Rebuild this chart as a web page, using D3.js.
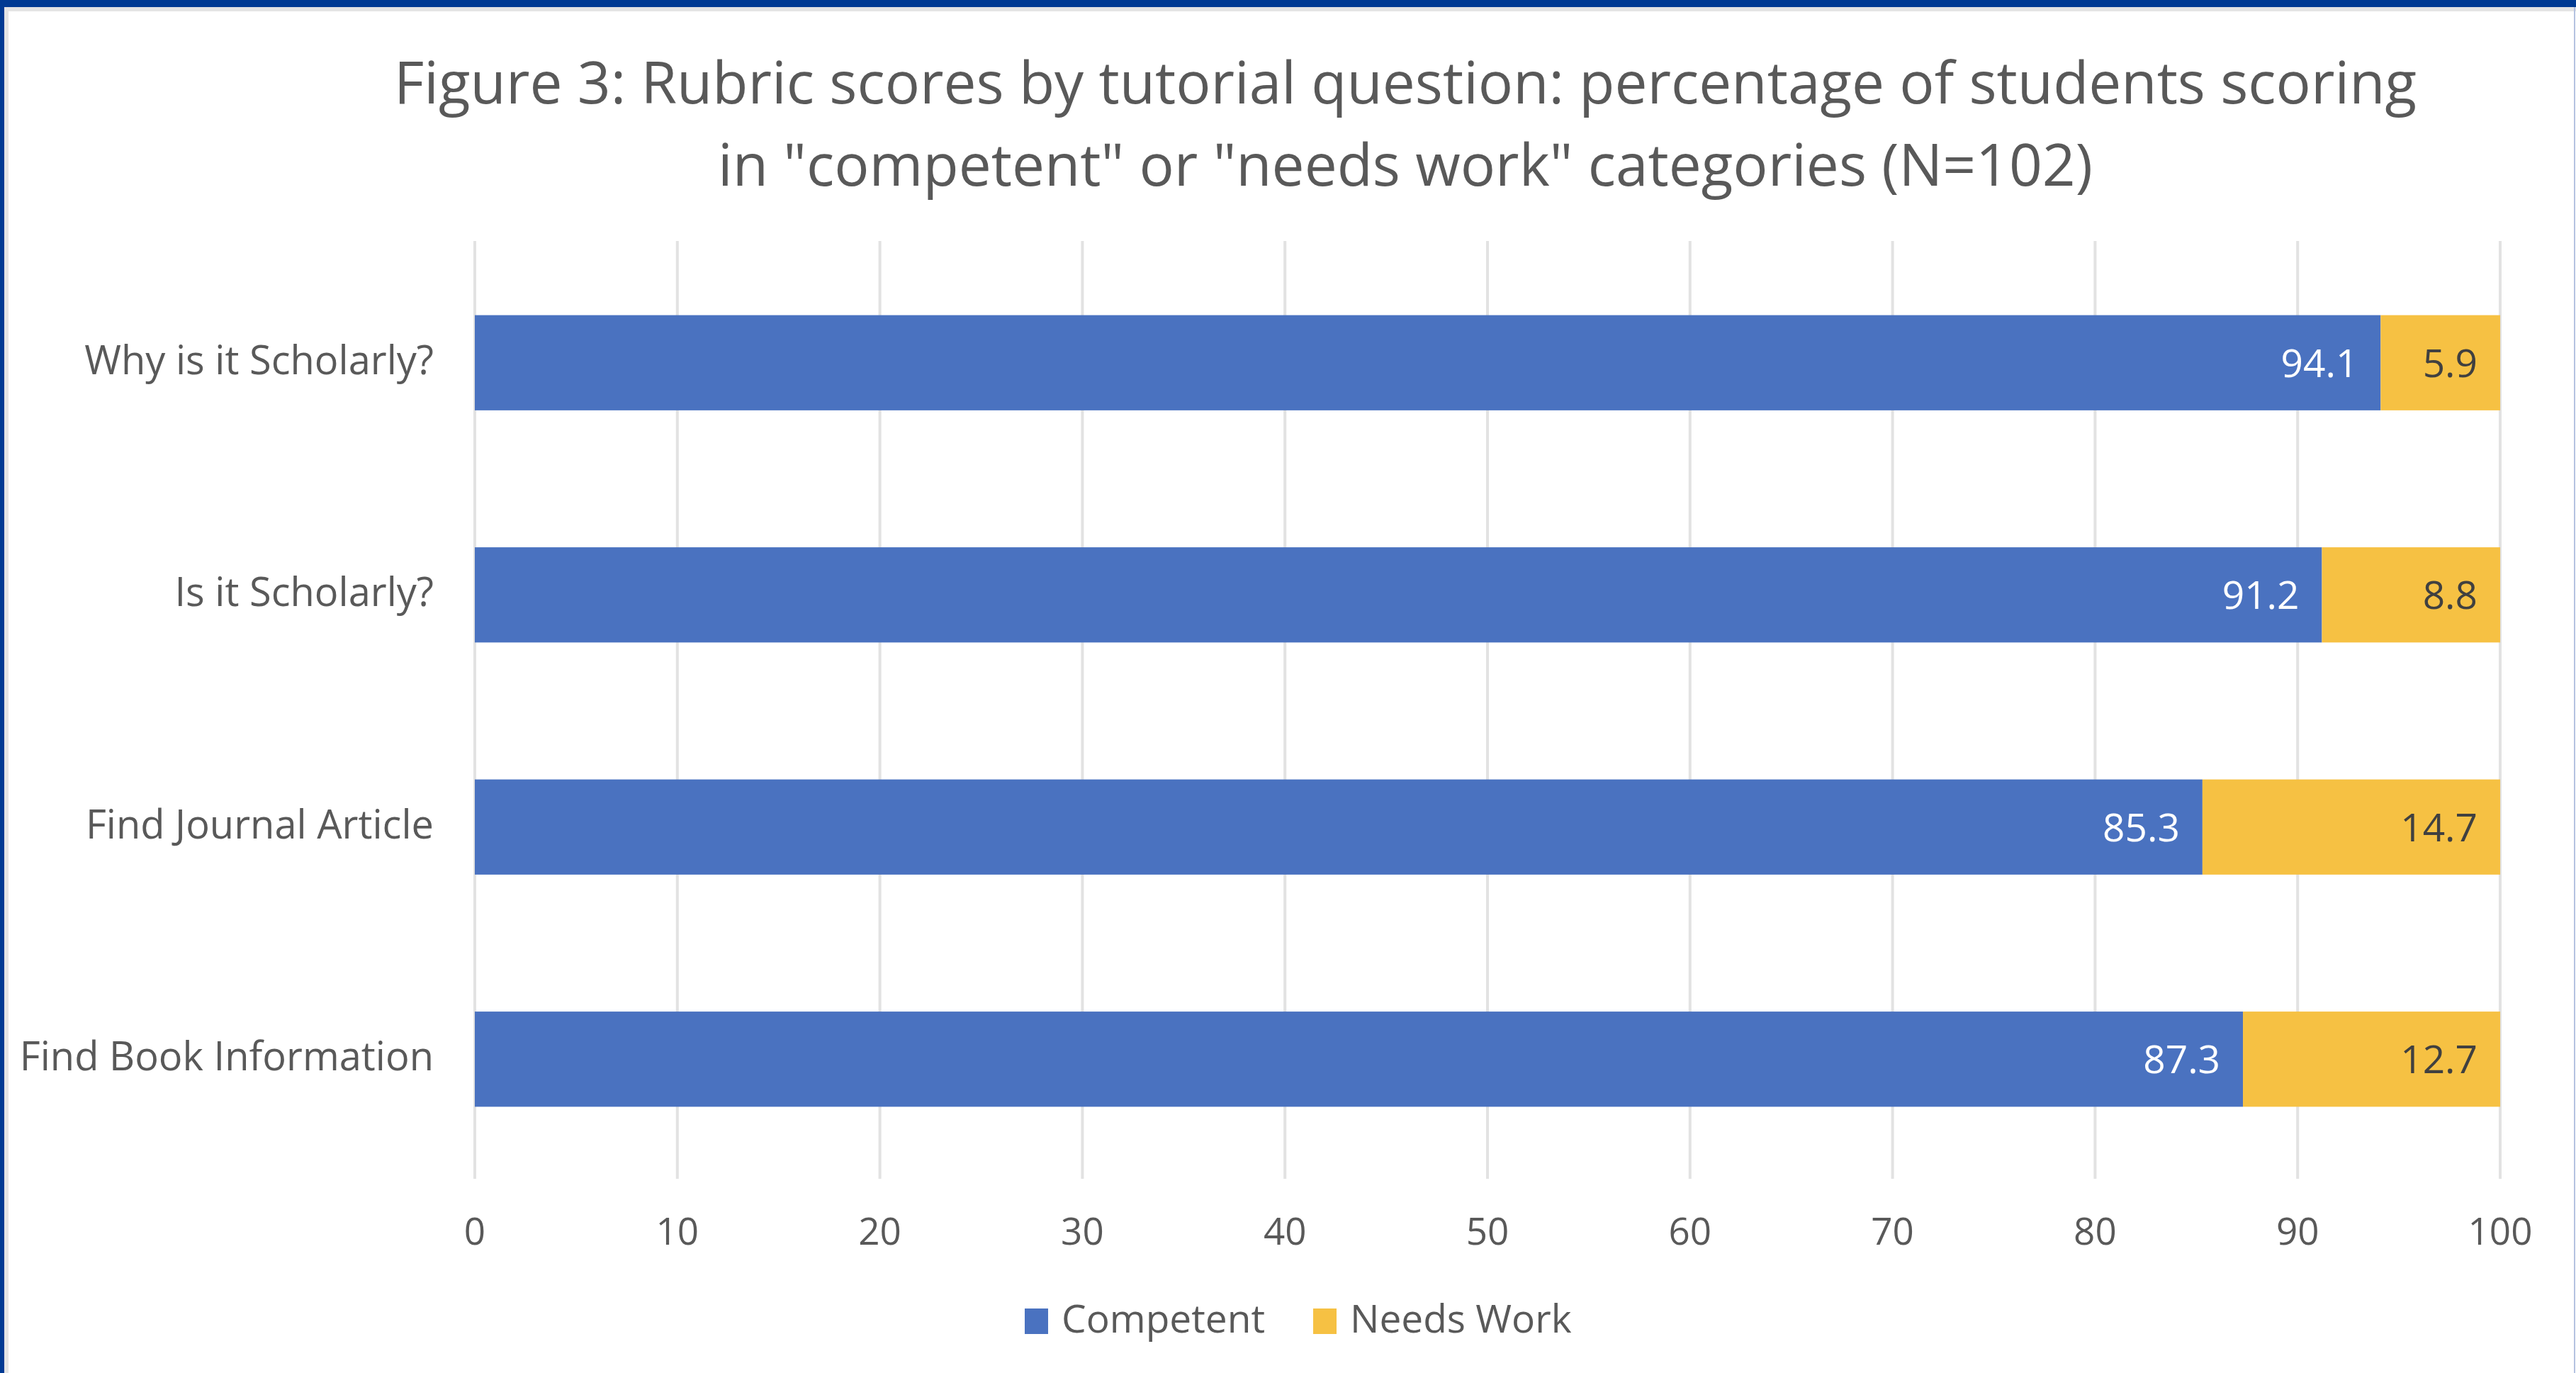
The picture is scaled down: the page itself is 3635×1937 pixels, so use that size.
<!DOCTYPE html>
<html>
<head>
<meta charset="utf-8">
<script src="https://cdn.jsdelivr.net/npm/d3@7"></script>
<style>
  html, body { margin: 0; padding: 0; background: #fff; }
  svg { display: block; }
  text { font-family: 'Open Sans', 'Noto Sans', sans-serif; }
</style>
</head>
<body>
<script>
const categories = ['Why is it Scholarly?', 'Is it Scholarly?', 'Find Journal Article', 'Find Book Information']
const competent = [94.1, 91.2, 85.3, 87.3]
const needsWork = [5.9, 8.8, 14.7, 12.7]
const seriesNames = ['Competent', 'Needs Work']
const xTicks = [0, 10, 20, 30, 40, 50, 60, 70, 80, 90, 100]
const titleLines = [
	'Figure 3: Rubric scores by tutorial question: percentage of students scoring',
	'in "competent" or "needs work" categories (N=102)'
]

const width = 3635
const height = 1937
const colours = ['#4a72c0', '#f6c143']
const textGrey = '#595959'

const svg = d3.select('body').append('svg')
	.attr('width', width)
	.attr('height', height)

// frame
svg.append('rect').attr('width', width).attr('height', height).attr('fill', '#fff')
svg.append('rect').attr('x', 6).attr('y', 10).attr('width', width).attr('height', 6).attr('fill', '#e4e4e4')
svg.append('rect').attr('x', 6).attr('y', 10).attr('width', 6).attr('height', height).attr('fill', '#e4e4e4')
svg.append('rect').attr('x', 0).attr('y', 0).attr('width', width).attr('height', 10).attr('fill', '#003a93')
svg.append('rect').attr('x', 0).attr('y', 0).attr('width', 6).attr('height', height).attr('fill', '#003a93')
svg.append('line')
	.attr('x1', width - 2).attr('x2', width - 2).attr('y1', 10).attr('y2', height)
	.attr('stroke', '#b4c2e0').attr('stroke-width', 2)

const xScale = d3.scaleLinear()
	.domain([0, 100])
	.range([670, 3528])

const yScale = d3.scaleBand()
	.domain(categories)
	.range([348, 1658])
	.paddingInner(0.59)
	.paddingOuter(0.295)

const plotTop = 340
const plotBottom = 1663

// gridlines
const grid = svg.append('g').attr('class', 'grid')
grid.selectAll('line')
	.data(xTicks)
	.enter()
	.append('line')
	.attr('x1', d => xScale(d))
	.attr('x2', d => xScale(d))
	.attr('y1', plotTop)
	.attr('y2', plotBottom)
	.attr('stroke', '#e2e2e2')
	.attr('stroke-width', 4)

// x tick labels
svg.append('g')
	.selectAll('text')
	.data(xTicks)
	.enter()
	.append('text')
	.attr('x', d => xScale(d))
	.attr('y', 1756)
	.attr('text-anchor', 'middle')
	.attr('fill', textGrey)
	.style('font-size', '53px')
	.text(d => d)

// stacked data
const rows = categories.map((c, i) => ({ name: c, Competent: competent[i], 'Needs Work': needsWork[i] }))
const stacked = d3.stack().keys(seriesNames)(rows)

const layers = svg.append('g')
	.selectAll('g')
	.data(stacked)
	.enter()
	.append('g')
	.attr('fill', (d, i) => colours[i])

layers.selectAll('rect')
	.data(d => d)
	.enter()
	.append('rect')
	.attr('x', d => xScale(d[0]))
	.attr('width', d => xScale(d[1]) - xScale(d[0]))
	.attr('y', d => yScale(d.data.name))
	.attr('height', yScale.bandwidth())

// data labels, inside end
layers.selectAll('text')
	.data((d, i) => d.map(v => ({ v, key: d.key, i })))
	.enter()
	.append('text')
	.attr('x', d => xScale(d.v[1]) - 32)
	.attr('y', d => yScale(d.v.data.name) + yScale.bandwidth() / 2 + 20)
	.attr('text-anchor', 'end')
	.attr('fill', d => d.i === 0 ? '#ffffff' : '#404040')
	.style('font-size', '55px')
	.text(d => d.v.data[d.key].toFixed(1))

// category labels
svg.append('g')
	.selectAll('text')
	.data(categories)
	.enter()
	.append('text')
	.attr('x', 612)
	.attr('y', d => yScale(d) + yScale.bandwidth() / 2 + 16)
	.attr('text-anchor', 'end')
	.attr('fill', textGrey)
	.style('font-size', '56px')
	.text(d => d)

// title
const titleText = svg.append('text')
	.attr('x', 1983)
	.attr('y', 146)
	.attr('text-anchor', 'middle')
	.attr('fill', textGrey)
	.style('font-size', '82px')

titleText.selectAll('tspan')
	.data(titleLines)
	.enter()
	.append('tspan')
	.attr('x', 1983)
	.attr('dy', (d, i) => i === 0 ? 0 : 116)
	.text(d => d)

// legend
const legendItems = [
	{ name: seriesNames[0], colour: colours[0], x: 1446 },
	{ name: seriesNames[1], colour: colours[1], x: 1853 }
]
const legend = svg.append('g')
	.selectAll('g')
	.data(legendItems)
	.enter()
	.append('g')
	.attr('transform', d => `translate(${d.x}, 1846)`)

legend.append('rect')
	.attr('width', 33)
	.attr('height', 36)
	.attr('fill', d => d.colour)

legend.append('text')
	.attr('x', 52)
	.attr('y', 34)
	.attr('fill', textGrey)
	.style('font-size', '55px')
	.text(d => d.name)
</script>
</body>
</html>
